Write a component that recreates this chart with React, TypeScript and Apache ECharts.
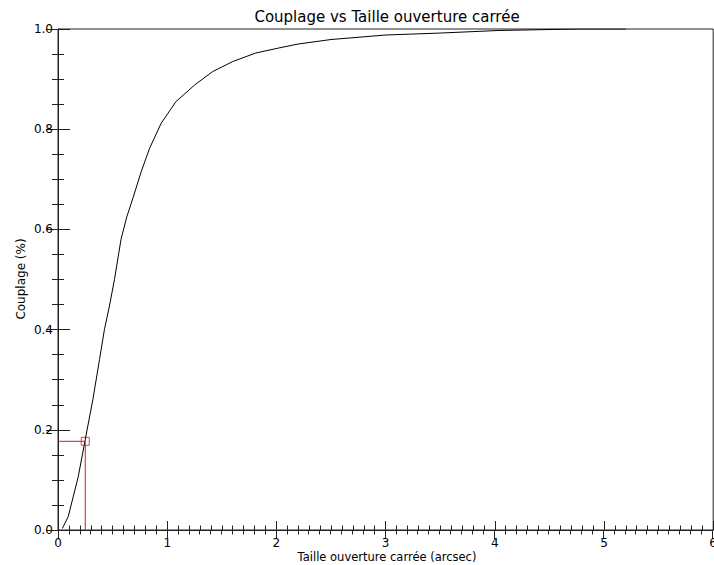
import React, { useEffect, useRef } from "react";
import * as echarts from "echarts";

const titleText = "Couplage vs Taille ouverture carrée";
const xTitle = "Taille ouverture carrée (arcsec)";
const yTitle = "Couplage (%)";

const apertureSize = [0.04, 0.094, 0.185, 0.249, 0.319, 0.38, 0.425, 0.471, 0.517, 0.577, 0.63, 0.687, 0.763, 0.839, 0.945, 1.08, 1.25, 1.416, 1.6, 1.81, 2.02, 2.2, 2.5, 3.0, 3.51, 4.03, 4.76, 5.2];
const coupling = [0.003, 0.027, 0.106, 0.18, 0.26, 0.34, 0.4, 0.447, 0.5, 0.58, 0.625, 0.663, 0.716, 0.762, 0.812, 0.855, 0.888, 0.915, 0.935, 0.952, 0.962, 0.97, 0.979, 0.988, 0.992, 0.997, 1.0, 1.0];

const markerX = 0.25;
const markerY = 0.177;

const xRange = [0, 6];
const yRange = [0, 1];

const FONT = "DejaVu Sans";
const AXIS_COLOR = "#222";
const RED = "#d41c1c";

export default function App() {
  const ref = useRef<HTMLDivElement>(null);
  useEffect(() => {
    if (!ref.current) return;
    const chart = echarts.init(ref.current, null, { renderer: "svg" });
    const xAxisBase = (gridIndex: number, position: "bottom" | "top", showLabel: boolean) => ({
      gridIndex,
      type: "value",
      position,
      min: xRange[0],
      max: xRange[1],
      interval: 1,
      axisLine: { show: true, lineStyle: { color: AXIS_COLOR, width: 1 } },
      axisTick: { show: true, inside: true, length: 9, lineStyle: { color: AXIS_COLOR, width: 1 } },
      minorTick: { show: true, splitNumber: 10, length: 4.5, lineStyle: { color: AXIS_COLOR, width: 1 } },
      splitLine: { show: false },
      axisLabel: {
        show: true,
        margin: 7,
        color: "#000",
        fontFamily: FONT,
        fontSize: 12,
        formatter: (v: number) => (showLabel ? String(Math.round(v)) : ""),
      },
    });
    const yAxisBase = (gridIndex: number, position: "left" | "right", showLabel: boolean) => ({
      gridIndex,
      type: "value",
      position,
      min: yRange[0],
      max: yRange[1],
      interval: 0.2,
      axisLine: { show: true, lineStyle: { color: AXIS_COLOR, width: 1 } },
      axisTick: { show: true, inside: true, length: 12, lineStyle: { color: AXIS_COLOR, width: 1 } },
      minorTick: { show: true, splitNumber: 4, length: 6, lineStyle: { color: AXIS_COLOR, width: 1 } },
      splitLine: { show: false },
      axisLabel: {
        show: true,
        margin: 5,
        color: "#000",
        fontFamily: FONT,
        fontSize: 12,
        formatter: (v: number) => (showLabel ? v.toFixed(1) : ""),
      },
    });
    const gridBox = { left: 58, top: 29, width: 658, height: 501 };
    chart.setOption({
      animation: false,
      backgroundColor: "#fff",
      grid: [
        { ...gridBox, show: true, borderColor: AXIS_COLOR, borderWidth: 1, backgroundColor: "transparent" },
        gridBox,
      ],
      xAxis: [xAxisBase(0, "bottom", true), xAxisBase(1, "top", false)],
      yAxis: [yAxisBase(0, "left", true), yAxisBase(1, "right", false)],
      graphic: [
        {
          type: "text",
          x: 387,
          y: 17,
          style: { text: titleText, fill: "#000", font: `15px "${FONT}"`, align: "center", verticalAlign: "middle" },
        },
        {
          type: "text",
          x: 387,
          y: 557,
          style: { text: xTitle, fill: "#000", font: `11.5px "${FONT}"`, align: "center", verticalAlign: "middle" },
        },
        {
          type: "text",
          x: 21,
          y: 279,
          rotation: Math.PI / 2,
          style: { text: yTitle, fill: "#000", font: `12px "${FONT}"`, align: "center", verticalAlign: "middle" },
        },
      ],
      series: [
        {
          type: "line",
          xAxisIndex: 0,
          yAxisIndex: 0,
          data: apertureSize.map((x, i) => [x, coupling[i]]),
          showSymbol: false,
          symbol: "none",
          smooth: false,
          lineStyle: { color: "#000", width: 1 },
          silent: true,
        },
        {
          type: "line",
          xAxisIndex: 1,
          yAxisIndex: 1,
          data: [
            [xRange[0], markerY],
            [markerX, markerY],
            [markerX, yRange[0]],
          ],
          symbol: "none",
          lineStyle: { color: RED, width: 1 },
          silent: true,
        },
        {
          type: "scatter",
          xAxisIndex: 1,
          yAxisIndex: 1,
          data: [[markerX, markerY]],
          symbol: "rect",
          symbolSize: 8,
          itemStyle: { color: "rgba(0,0,0,0)", borderColor: RED, borderWidth: 1 },
          silent: true,
        },
      ],
    });
    return () => chart.dispose();
  }, []);
  return (
    <div
      ref={ref}
      style={{ position: "fixed", left: 0, top: 0, width: 720, height: 565, background: "#fff" }}
    />
  );
}
